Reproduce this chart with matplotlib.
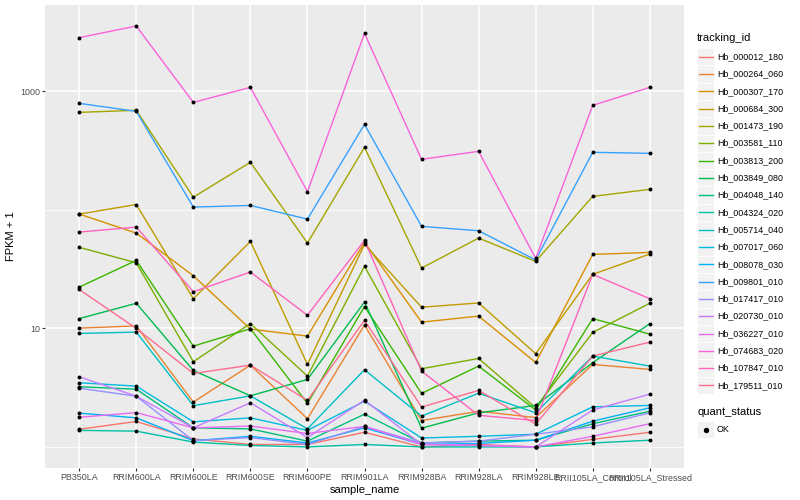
import matplotlib
matplotlib.use("Agg")
import numpy as np
import matplotlib.pyplot as plt
from matplotlib.patches import Rectangle
from matplotlib.lines import Line2D
from matplotlib.ticker import FixedLocator, NullFormatter

plt.rcParams['font.family'] = ['Liberation Sans', 'DejaVu Sans']

# samples on the x axis
samples = ["PB350LA", "RRIM600LA", "RRIM600LE", "RRIM600SE", "RRIM600PE",
           "RRIM901LA", "RRIM928BA", "RRIM928LA", "RRIM928LE",
           "RRII105LA_Control", "RRII105LA_Stressed"]

tracking_ids = ["Hb_000012_180", "Hb_000264_060", "Hb_000307_170", "Hb_000684_300",
                "Hb_001473_190", "Hb_003581_110", "Hb_003813_200", "Hb_003849_080",
                "Hb_004048_140", "Hb_004324_020", "Hb_005714_040", "Hb_007017_060",
                "Hb_008078_030", "Hb_009801_010", "Hb_017417_010", "Hb_020730_010",
                "Hb_036227_010", "Hb_074683_020", "Hb_107847_010", "Hb_179511_010"]

# FPKM + 1
hb_000012_180 = [1.41, 1.64, 1.17, 1.05, 1.05, 1.33, 1.0, 1.05, 1.0, 1.16, 1.33]
hb_000264_060 = [10.06, 10.5, 2.39, 4.90, 1.73, 10.7, 1.67, 2.00, 1.77, 4.97, 4.51]
hb_000307_170 = [92.2, 63.7, 27.8, 9.87, 8.61, 53.2, 11.3, 12.7, 5.16, 42.1, 43.8]
hb_000684_300 = [92.2, 111, 17.8, 54.2, 4.97, 51.2, 15.1, 16.4, 6.12, 28.6, 42.4]
hb_001473_190 = [665, 692, 128, 252, 52.5, 337, 32.3, 57.8, 36.8, 130, 149]
hb_003581_110 = [48.3, 35.8, 5.24, 11.0, 3.96, 33.4, 4.57, 5.58, 2.14, 9.25, 16.3]
hb_003813_200 = [22.3, 37.5, 7.09, 9.94, 2.33, 15.3, 2.83, 4.81, 2.05, 12.1, 8.95]
hb_003849_080 = [12.1, 16.3, 4.42, 2.70, 3.71, 16.7, 1.44, 1.94, 2.24, 5.14, 10.96]
hb_004048_140 = [3.22, 3.07, 1.45, 1.42, 1.12, 1.89, 1.08, 1.12, 1.14, 1.57, 2.00]
hb_004324_020 = [1.38, 1.36, 1.10, 1.03, 1.0, 1.05, 1.0, 1.0, 1.0, 1.08, 1.14]
hb_005714_040 = [9.07, 9.31, 2.23, 2.70, 1.42, 4.48, 1.82, 2.84, 1.94, 5.84, 4.81]
hb_007017_060 = [3.48, 3.26, 1.63, 1.76, 1.38, 2.43, 1.19, 1.23, 1.28, 2.18, 2.24]
hb_008078_030 = [1.93, 1.76, 1.13, 1.23, 1.08, 1.45, 1.05, 1.07, 1.14, 1.65, 2.14]
hb_009801_010 = [792, 678, 105.6, 109, 83.6, 527, 72.6, 66.7, 37.8, 306, 300]
hb_017417_010 = [3.13, 2.68, 1.13, 1.20, 1.05, 1.49, 1.08, 1.12, 1.28, 1.48, 1.94]
hb_020730_010 = [3.91, 2.68, 1.45, 2.36, 1.20, 2.48, 1.05, 1.03, 1.0, 2.05, 2.79]
hb_036227_010 = [1.78, 1.95, 1.45, 1.50, 1.30, 1.49, 1.05, 1.03, 1.0, 1.23, 1.57]
hb_074683_020 = [2838, 3556, 807, 1081, 142.5, 3085, 267, 312, 39.0, 762, 1081]
hb_107847_010 = [65.0, 71.6, 20.4, 29.9, 12.9, 55.3, 4.36, 1.85, 1.67, 28.6, 17.8]
hb_179511_010 = [21.3, 10.0, 4.17, 4.90, 2.47, 11.7, 2.17, 3.00, 1.56, 5.84, 7.66]

series = [hb_000012_180, hb_000264_060, hb_000307_170, hb_000684_300, hb_001473_190,
          hb_003581_110, hb_003813_200, hb_003849_080, hb_004048_140, hb_004324_020,
          hb_005714_040, hb_007017_060, hb_008078_030, hb_009801_010, hb_017417_010,
          hb_020730_010, hb_036227_010, hb_074683_020, hb_107847_010, hb_179511_010]

# ggplot hue palette, 20 levels
colours = ["#F8766D", "#EA8331", "#D89000", "#C09B00", "#A3A500", "#7CAE00", "#39B600",
           "#00BB4E", "#00BF7D", "#00C1A3", "#00BFC4", "#00BAE0", "#00B0F6", "#35A2FF",
           "#9590FF", "#C77CFF", "#E76BF3", "#FA62DB", "#FF62BC", "#FF6C91"]

W, H = 800, 500
fig = plt.figure(figsize=(8, 5), dpi=100)
ax = fig.add_axes([45 / W, 1 - 468 / H, (684 - 45) / W, (468 - 5) / H])
ax.set_facecolor("#EBEBEB")
for s in ax.spines.values():
    s.set_visible(False)

x = np.arange(len(samples))
for vals, c in zip(series, colours):
    ax.plot(x, vals, color=c, lw=1.0, zorder=2)
for vals in series:
    ax.scatter(x, vals, s=8, color="black", zorder=3, linewidths=0)

ax.set_yscale("log")
allv = np.log10(np.concatenate([np.array(v, float) for v in series]))
lo, hi = allv.min(), allv.max()
pad = (hi - lo) * 0.05
ax.set_ylim(10 ** (lo - pad), 10 ** (hi + pad))
ax.set_xlim(-0.6, len(samples) - 1 + 0.6)

ax.yaxis.set_major_locator(FixedLocator([10, 1000]))
ax.yaxis.set_minor_locator(FixedLocator([1, 100]))
ax.yaxis.set_minor_formatter(NullFormatter())
ax.set_yticklabels(["10", "1000"])
ax.set_xticks(x)
ax.set_xticklabels(samples)

ax.grid(True, which="major", color="white", lw=1.1, zorder=0)
ax.grid(True, which="minor", axis="y", color="white", lw=0.55, zorder=0)
ax.set_axisbelow(True)
ax.tick_params(which="major", length=2, width=0.8, color="#333333",
               labelsize=6.4, labelcolor="#4D4D4D", pad=1.5)
ax.tick_params(which="minor", length=0)

ax.set_xlabel("sample_name", fontsize=8, labelpad=2)
ax.set_ylabel("FPKM + 1", fontsize=8, labelpad=3)


def fx(px):
    return px / W


def fy(py):
    return 1 - py / H


# legend: tracking_id
fig.text(fx(697), fy(38), "tracking_id", fontsize=8, va="center", ha="left")
row0, pitch = 56.7, 17.3
for i, (tid, c) in enumerate(zip(tracking_ids, colours)):
    yc = row0 + pitch * i
    fig.add_artist(Rectangle((fx(697), fy(yc + pitch / 2)), 17 / W, pitch / H,
                             transform=fig.transFigure, facecolor="#F2F2F2",
                             edgecolor="white", lw=0.6))
    fig.add_artist(Line2D([fx(698.5), fx(712.5)], [fy(yc), fy(yc)],
                          transform=fig.transFigure, color=c, lw=1.0))
    fig.text(fx(717), fy(yc), tid, fontsize=6.4, va="center", ha="left")

# legend: quant_status
fig.text(fx(697), fy(412), "quant_status", fontsize=8, va="center", ha="left")
yc = 429.5
fig.add_artist(Rectangle((fx(697), fy(yc + pitch / 2)), 17 / W, pitch / H,
                         transform=fig.transFigure, facecolor="#F2F2F2",
                         edgecolor="white", lw=0.6))
fig.add_artist(Line2D([fx(705.5)], [fy(yc)], transform=fig.transFigure,
                      marker="o", markersize=2.9, color="black", lw=0))
fig.text(fx(717), fy(yc), "OK", fontsize=6.4, va="center", ha="left")

fig.savefig("out.png", dpi=100)
